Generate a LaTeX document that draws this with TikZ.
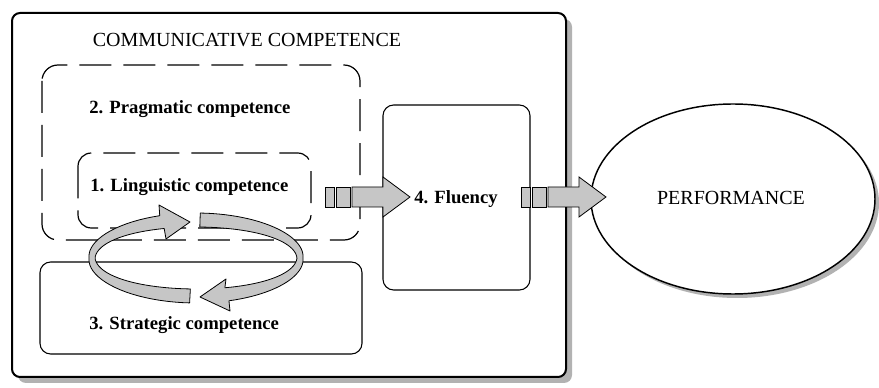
\documentclass[tikz,border=0pt]{standalone}
\usepackage{fontspec}
\setmainfont{Liberation Serif}
\newcommand{\blockarrow}[2]{%
  \draw[hatch] (#1,#2-10) rectangle (#1+9,#2+10);
  \draw[hatch] (#1+11,#2-10) rectangle (#1+25,#2+10);
  \draw[hatch, line join=miter] (#1+27,#2-10) -- (#1+58,#2-10) -- (#1+58,#2-20) -- (#1+85,#2)
    -- (#1+58,#2+20) -- (#1+58,#2+10) -- (#1+27,#2+10) -- cycle;
}
\begin{document}
\begin{tikzpicture}[x=0.75pt,y=-0.75pt,
  box/.style={draw, line width=0.8pt, rounded corners=8pt},
  dbox/.style={draw, line width=0.9pt, dash pattern=on 24pt off 9pt, rounded corners=12pt},
  hatch/.style={draw=black, line width=0.6pt, fill=gray!45},
  shadowfill/.style={fill=gray!60},
  lbl/.style={font=\fontsize{14}{16}\selectfont\bfseries, anchor=west, inner sep=0pt},
  caps/.style={font=\fontsize{15}{17}\selectfont, inner sep=0pt}]
\useasboundingbox (0,0) rectangle (879,388);
\fill[white] (0,0) rectangle (879,388);

% outer box with shadow
\fill[shadowfill, rounded corners=6pt] (18,19) rectangle (572,383);
\draw[fill=white, line width=1.5pt, rounded corners=6pt] (12,13) rectangle (566,377);

% inner boxes
\draw[dbox] (42,65) rectangle (360,240);
\draw[dbox, rounded corners=10pt] (78,153) rectangle (311,228);
\draw[box] (40,262) rectangle (362,354);
\draw[box] (383,105) rectangle (530,290);

% performance ellipse with shadow
\fill[shadowfill] (737,203) ellipse[x radius=142, y radius=95];
\draw[fill=white, line width=1.1pt] (733,199) ellipse[x radius=142, y radius=95];

% texts
\node[caps] (title) at (247,40) {COMMUNICATIVE COMPETENCE};
\node[lbl] (prag) at (89,109) {2. Pragmatic competence};
\node[lbl] (ling) at (90,187) {1. Linguistic competence};
\node[lbl] (strat) at (89,325) {3. Strategic competence};
\node[lbl, anchor=center] (flu) at (456,199) {4. Fluency};
\node[caps] (perf) at (731,198) {PERFORMANCE};

% block arrows
\blockarrow{325}{197}
\blockarrow{521}{197}

% cycle arrows
\draw[hatch, line join=round]
  plot[domain=93.3:250.9, samples=40, variable=\t]
    ({196+(107+4*abs(sin(\t)))*cos(\t)}, {258+(41+4*abs(sin(\t)))*sin(\t)})
  -- (159,205) -- (190,222) -- (166,239)
  -- plot[domain=0:1, samples=40, variable=\u]
    ({196+(101-4*abs(sin(250.9-157.6*\u)))*cos(250.9-157.6*\u)},
     {258+(35-4*abs(sin(250.9-157.6*\u)))*sin(250.9-157.6*\u)})
  -- cycle;
\draw[hatch, line join=round]
  plot[domain=272.2:432.7, samples=50, variable=\t]
    ({196+(107+4*abs(sin(\t)))*cos(\t)}, {258+(41+4*abs(sin(\t)))*sin(\t)})
  -- (230,311) -- (200,297) -- (226,279)
  -- plot[domain=0:1, samples=50, variable=\u]
    ({196+(101-4*abs(sin(432.7-160.5*\u)))*cos(432.7-160.5*\u)},
     {258+(35-4*abs(sin(432.7-160.5*\u)))*sin(432.7-160.5*\u)})
  -- cycle;
\end{tikzpicture}
\end{document}
